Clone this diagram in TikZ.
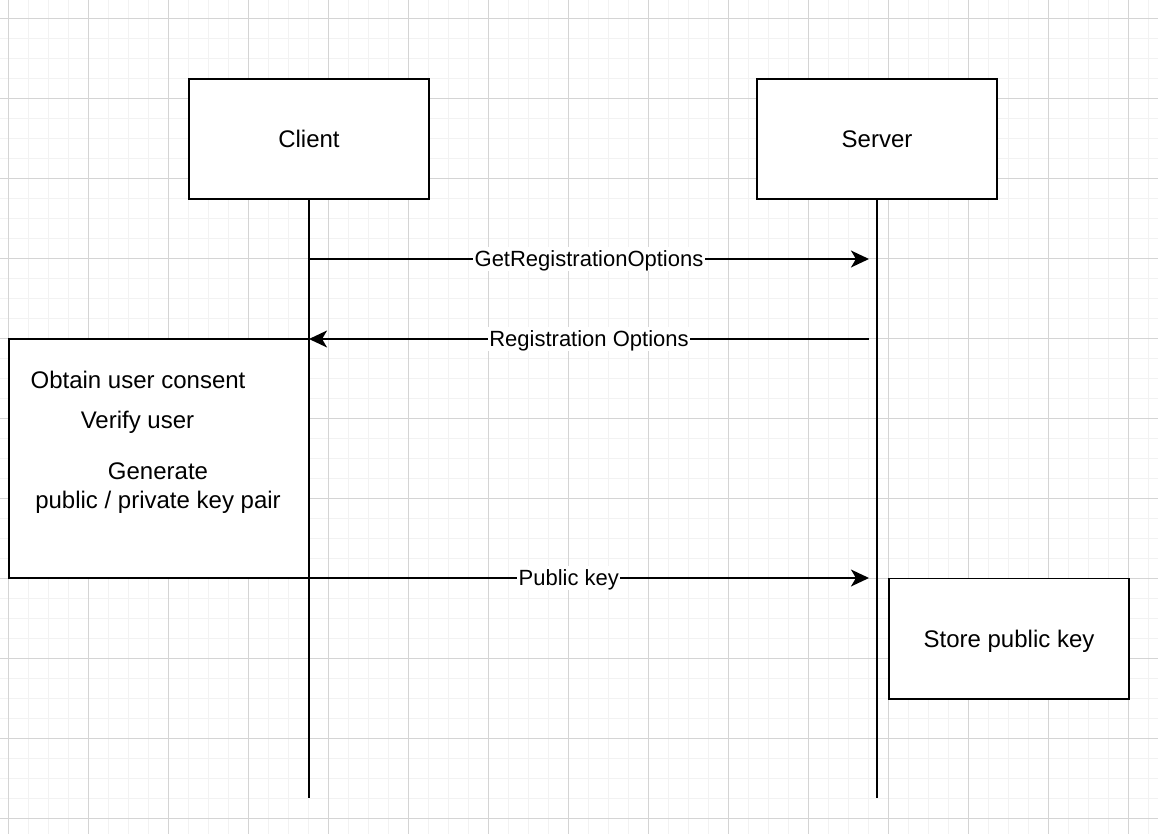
\documentclass[tikz,border=0pt]{standalone}
\usepackage{fontspec}
\setmainfont{Liberation Sans}
\usetikzlibrary{arrows.meta}
\definecolor{gridminor}{HTML}{F2F2F2}
\definecolor{gridmajor}{HTML}{D4D4D4}

\begin{document}
\begin{tikzpicture}[x=0.025cm,y=-0.025cm,>={Stealth[length=12.8pt,width=12pt,inset=3.5pt]},
  line width=1.4pt,
  txt/.style={inner sep=0pt,font=\fontsize{17.07}{20.3}\selectfont},
  note/.style={txt,text height=14.5pt,text depth=2.3pt},
  box/.style={note,rectangle,draw,fill=white,minimum width=6cm,minimum height=3cm},
  msg/.style={->,every node/.style={fill=white,inner xsep=1pt,inner ysep=1pt,
    font=\fontsize{15.65}{18}\selectfont,text height=13pt,text depth=1.8pt}}]

  \useasboundingbox (0,0) rectangle (1158,834);
  \fill[white] (0,0) rectangle (1158,834);
  % grid
  \foreach \gx in {8,28,...,1148} \draw[gridminor,line width=0.7pt] (\gx,0) -- (\gx,834);
  \foreach \gy in {18,38,...,818} \draw[gridminor,line width=0.7pt] (0,\gy) -- (1158,\gy);
  \foreach \gx in {8,88,...,1128} \draw[gridmajor,line width=0.7pt] (\gx,0) -- (\gx,834);
  \foreach \gy in {18,98,...,818} \draw[gridmajor,line width=0.7pt] (0,\gy) -- (1158,\gy);

  \node[box] (client) at (309,139) {Client};
  \node[box] (server) at (877,139) {Server};
  \node[box,minimum width=7.5cm,minimum height=5.975cm] (local) at (159,458.5) {};
  \node[box] (store) at (1009,638.5) {Store public key};

  \node[note] (consent) at (138,380) {Obtain user consent};
  \node[note] (verify) at (137.5,420) {Verify user};
  \node[txt,align=center] (keypair) at (158,488) {Generate\\public / private key pair};

  \coordinate (clientend) at (309,798);
  \coordinate (serverend) at (877,798);
  \draw (client) -- (clientend);
  \draw (server) -- (serverend);

  \coordinate (c1) at (309,259);
  \coordinate (s1) at (869,259);
  \coordinate (s2) at (869,339);
  \coordinate (c2) at (309,339);
  \coordinate (c3) at (309,578);
  \coordinate (s3) at (869,578);

  \path[msg]
    (c1) edge node {GetRegistrationOptions} (s1)
    (s2) edge node {Registration Options} (c2)
    (c3) edge node[pos=0.464] {Public key} (s3);
\end{tikzpicture}
\end{document}
